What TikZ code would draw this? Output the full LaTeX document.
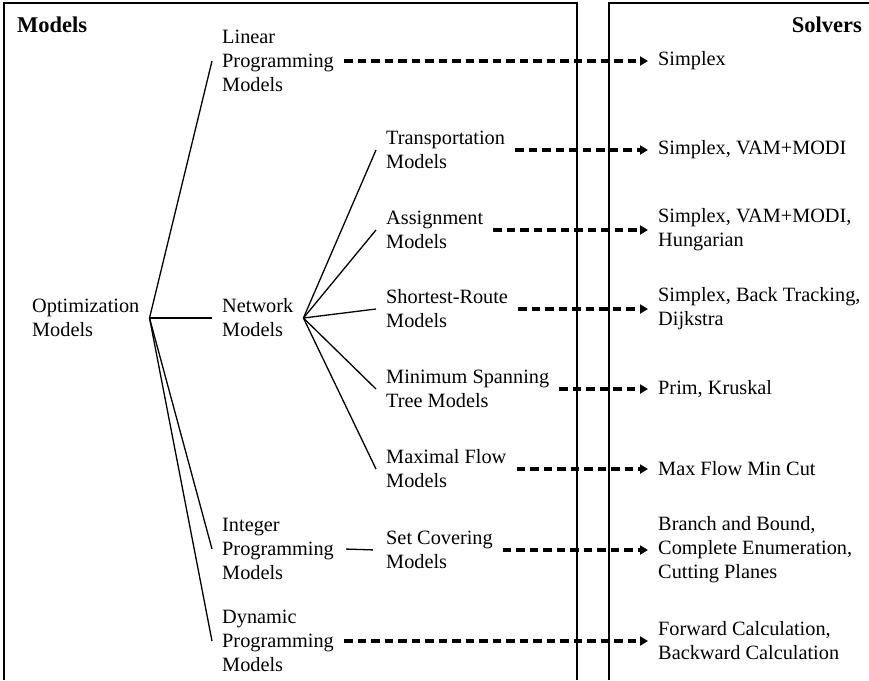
\documentclass[tikz,border=0pt]{standalone}
\usepackage{fontspec}
\setmainfont{Liberation Serif}
\usetikzlibrary{arrows.meta}

\tikzset{
  lbl/.style={anchor=west, align=left, inner xsep=10pt, inner ysep=0pt,
              font=\fontsize{20.3}{24}\selectfont},
  sol/.style={lbl},
  head/.style={inner sep=0pt, font=\fontsize{22.5}{26}\selectfont\bfseries},
  frame/.style={line width=1.2pt},
  tree/.style={line width=1.3pt},
  flow/.style={line width=3.3pt, dash pattern=on 8.5pt off 5pt,
               -{Triangle[length=8pt,width=9pt]}}
}

\begin{document}
\begin{tikzpicture}[x=1pt,y=-1pt]
  \useasboundingbox (0,0) rectangle (869,680);

  % two open-bottom panels
  \draw[frame] (4,680) -- (4,3) -- (577,3) -- (577,680);
  \draw[frame] (609,680) -- (609,3) -- (869,3);

  % headings
  \node[head, anchor=west] (hmodels) at (17,25) {Models};
  \node[head, anchor=east] (hsolvers) at (862,25) {Solvers};

  % model hierarchy
  \node[lbl] (opt) at (22,318) {Optimization\\Models};
  \node[lbl] (lp)  at (212,61)  {Linear\\Programming\\Models};
  \node[lbl] (net) at (212,318) {Network\\Models};
  \node[lbl] (ip)  at (212,549) {Integer\\Programming\\Models};
  \node[lbl] (dp)  at (212,641) {Dynamic\\Programming\\Models};

  \node[lbl] (tr) at (376,150) {Transportation\\Models};
  \node[lbl] (as) at (376,230) {Assignment\\Models};
  \node[lbl] (sr) at (376,309) {Shortest-Route\\Models};
  \node[lbl] (ms) at (376,389) {Minimum Spanning\\Tree Models};
  \node[lbl] (mf) at (376,469) {Maximal Flow\\Models};
  \node[lbl] (sc) at (376,550) {Set Covering\\Models};

  % solution methods
  \node[sol] (s1) at (648,61)  {Simplex};
  \node[sol] (s2) at (648,150) {Simplex, VAM+MODI};
  \node[sol] (s3) at (648,230) {Simplex, VAM+MODI,\\Hungarian};
  \node[sol] (s4) at (648,309) {Simplex, Back Tracking,\\Dijkstra};
  \node[sol] (s5) at (648,389) {Prim, Kruskal};
  \node[sol] (s6) at (648,469) {Max Flow Min Cut};
  \node[sol] (s7) at (648,550) {Branch and Bound,\\Complete Enumeration,\\Cutting Planes};
  \node[sol] (s8) at (648,641) {Forward Calculation,\\Backward Calculation};

  % tree branches
  \foreach \t in {lp,net,ip,dp} \draw[tree] (opt.east) -- (\t.west);
  \foreach \t in {tr,as,sr,ms,mf} \draw[tree] (net.east) -- (\t.west);
  \draw[tree, shorten <=2pt, shorten >=3pt] (ip.east) -- (sc.west);

  % model -> solver links
  \draw[flow] (lp.east) -- (s1.west);
  \draw[flow] (tr.east) -- (s2.west);
  \draw[flow] (as.east) -- (s3.west);
  \draw[flow] (sr.east) -- (s4.west);
  \draw[flow] (ms.east) -- (s5.west);
  \draw[flow] (mf.east) -- (s6.west);
  \draw[flow] (sc.east) -- (s7.west);
  \draw[flow] (dp.east) -- (s8.west);
\end{tikzpicture}
\end{document}
